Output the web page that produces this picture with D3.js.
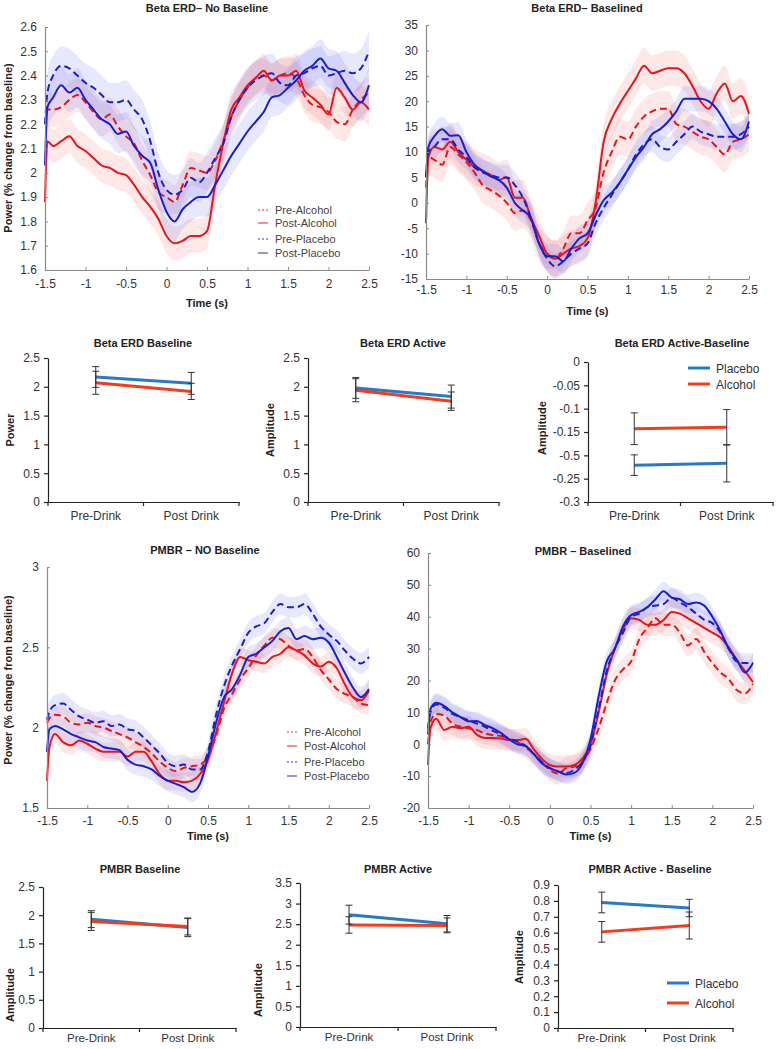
<!DOCTYPE html>
<html><head><meta charset="utf-8">
<script src="https://cdn.jsdelivr.net/npm/d3@7"></script>
<style>
body{margin:0;background:#fff}
svg{display:block;font-family:"Liberation Sans",Arial,Helvetica,sans-serif}
</style>
</head><body>
<svg id="c" width="777" height="1049"></svg>
<script>
// ---------- time-series data (time in s) ----------
const times = [-1.5,-1.47,-1.4,-1.3,-1.2,-1.1,-1,-0.9,-0.8,-0.7,-0.6,-0.5,-0.4,-0.3,-0.2,-0.1,0,0.1,0.2,0.3,0.4,0.5,0.6,0.7,0.8,0.9,1,1.1,1.2,1.3,1.4,1.5,1.6,1.7,1.8,1.9,2,2.1,2.2,2.3,2.4,2.5];
const timeTicks = [-1.5,-1,-0.5,0,0.5,1,1.5,2,2.5];
const timeTickLabels = ["-1.5","-1","-0.5","0","0.5","1","1.5","2","2.5"];

// Beta ERD - No Baseline
const erdNoBasePreAlc  = [2.20,2.26,2.26,2.27,2.30,2.32,2.29,2.25,2.22,2.24,2.19,2.15,2.12,2.05,1.99,1.92,1.90,1.88,1.95,2.02,2.01,2.00,2.05,2.13,2.23,2.30,2.35,2.39,2.40,2.38,2.40,2.41,2.39,2.32,2.28,2.27,2.25,2.21,2.20,2.26,2.30,2.33];
const erdNoBasePostAlc = [1.88,2.13,2.11,2.13,2.15,2.11,2.09,2.06,2.03,2.02,2.00,1.99,1.95,1.90,1.86,1.81,1.74,1.71,1.72,1.74,1.74,1.76,1.95,2.12,2.26,2.31,2.36,2.39,2.42,2.38,2.40,2.40,2.42,2.34,2.31,2.28,2.24,2.35,2.31,2.26,2.29,2.26];
const erdNoBasePrePla  = [2.20,2.33,2.40,2.44,2.43,2.40,2.37,2.35,2.32,2.29,2.29,2.30,2.26,2.22,2.13,2.00,1.93,1.91,1.93,1.98,1.96,2.00,2.06,2.12,2.23,2.30,2.35,2.38,2.40,2.41,2.37,2.36,2.40,2.41,2.43,2.44,2.40,2.41,2.42,2.41,2.43,2.50];
const erdNoBasePostPla = [2.03,2.27,2.31,2.36,2.33,2.35,2.30,2.26,2.22,2.20,2.16,2.17,2.11,2.07,2.04,1.93,1.84,1.80,1.85,1.88,1.90,1.90,1.95,2.01,2.07,2.12,2.17,2.21,2.25,2.31,2.32,2.35,2.38,2.42,2.44,2.47,2.43,2.42,2.37,2.32,2.29,2.36];
const erdNoBaseSeAlc = 0.07, erdNoBaseSePla = 0.08;
const erdNoBaseTicks = [1.6,1.7,1.8,1.9,2,2.1,2.2,2.3,2.4,2.5,2.6];
const erdNoBaseTickLabels = ["1.6","1.7","1.8","1.9","2","2.1","2.2","2.3","2.4","2.5","2.6"];

// Beta ERD - Baselined
const erdBasePreAlc  = [3,9,8.5,7.5,11,9.5,8,6,3.5,2.5,1.5,0,-2,-1.5,-3.5,-8,-10,-11,-9,-6,-6,-3.5,-1,6,10,13,12.5,15,17,18,18.5,18.5,15.5,15,14,13,12.5,11,9.5,12,12.5,13.5];
const erdBasePostAlc = [-4,9,11,10.5,12,10,8.5,7,6.3,5.5,4.5,5,1,1,-3,-6.5,-10,-11,-10,-9,-8.5,-7,0,12,16.5,19.5,22,24.5,27,25.5,26,26.5,26.5,25.5,23,20,18.5,21.5,23.5,20,21,17.5];
const erdBasePrePla  = [5,10,11,12.5,12.5,10.5,9,7,6,5.5,5,5,3.5,1,-3,-8,-11,-12.5,-11.5,-10,-9,-8,-4,-1,1.5,4,6.5,9.5,11.5,12.5,11,10.5,12,13.5,15,14,13.5,13,13,13,13.5,15];
const erdBasePostPla = [5,11,13,14.5,13.2,13.3,10,7.5,6.3,5.2,4.5,3,0,-1.5,-3,-8,-10.5,-10.5,-11.5,-9,-7,-6,-2.5,0.5,2,4,6.5,9,11,13.5,14.5,16,18,20.5,20.5,20.5,20,18.5,16,13.5,12.5,16];
const erdBaseSeAlc = 3.5, erdBaseSePla = 2.5;
const erdBaseTicks = [-15,-10,-5,0,5,10,15,20,25,30,35];
const erdBaseTickLabels = ["-15","-10","-5","0","5","10","15","20","25","30","35"];

// PMBR - NO Baseline
const pmbrNoBasePreAlc  = [2.03,2.06,2.08,2.07,2.03,2.02,2.03,2.01,2.00,1.98,1.96,1.94,1.91,1.88,1.84,1.79,1.75,1.73,1.75,1.76,1.77,1.82,1.95,2.12,2.21,2.30,2.37,2.45,2.51,2.56,2.55,2.51,2.48,2.49,2.44,2.36,2.30,2.24,2.21,2.19,2.15,2.14];
const pmbrNoBasePostAlc = [1.67,1.88,1.96,1.91,1.89,1.92,1.90,1.87,1.85,1.85,1.85,1.82,1.85,1.85,1.79,1.71,1.67,1.67,1.66,1.67,1.71,1.80,1.97,2.16,2.34,2.44,2.42,2.41,2.40,2.44,2.46,2.50,2.48,2.45,2.40,2.38,2.41,2.37,2.27,2.19,2.17,2.23];
const pmbrNoBasePrePla  = [2.05,2.10,2.14,2.15,2.11,2.07,2.05,2.03,2.04,2.01,2.02,1.99,1.98,1.94,1.89,1.84,1.78,1.76,1.77,1.74,1.74,1.85,2.08,2.26,2.39,2.49,2.59,2.63,2.65,2.72,2.77,2.75,2.75,2.77,2.71,2.63,2.58,2.54,2.48,2.43,2.40,2.44];
const pmbrNoBasePostPla = [1.85,1.99,2.01,1.99,1.96,1.94,1.92,1.91,1.88,1.87,1.86,1.80,1.77,1.76,1.74,1.70,1.67,1.65,1.63,1.60,1.65,1.82,2.03,2.19,2.24,2.33,2.44,2.46,2.50,2.54,2.60,2.62,2.55,2.57,2.55,2.56,2.53,2.44,2.34,2.25,2.19,2.24];
const pmbrNoBaseSeAlc = 0.06, pmbrNoBaseSePla = 0.065;
const pmbrNoBaseTicks = [1.5,2,2.5,3];
const pmbrNoBaseTickLabels = ["1.5","2","2.5","3"];

// PMBR - Baselined
const pmbrBasePreAlc  = [0,7,9.5,9,6.5,5.5,5,4.5,3.4,2.9,2.5,1.6,0.7,-1,-3,-5.6,-8,-9.2,-7.5,-7,-5.5,-1.5,5,13,20,23.5,26,33,36.5,39.5,37.5,37.5,35,31,33,29,25.5,22.5,20.5,17,16,19];
const pmbrBasePostAlc = [-6.5,5,8,4.5,5.5,5,5.5,3,2,2,1.8,1.3,1.3,1.7,-1.5,-4.5,-6.5,-7,-7,-6.5,-4.5,0,10,22,30,36,39.5,39,37.5,37.5,39,41.5,41,39.5,38,36.5,35,33.5,30.5,26.5,23,19.5];
const pmbrBasePrePla  = [5,10,12.5,11.5,9.5,8.5,7.5,6.5,5.5,4.2,3,1.8,0.8,-0.5,-3,-5.5,-7.5,-8.5,-9,-8,-5.5,-0.5,11,23,30,35,40,41,43,43.5,44,46,44.5,43,41,39,38,35,30,26,25.5,25.5];
const pmbrBasePostPla = [3,11,13,12,10,8.5,7.2,7.3,6,5,3.5,1.5,0,-0.5,-3,-6,-7.5,-8.5,-9.5,-9,-6,1.5,15,26,30,37,40.5,41.5,43,45.5,48,46,45.5,44,44.5,43.5,40,35.5,30,26.5,22.5,25.5];
const pmbrBaseSeAlc = 3.5, pmbrBaseSePla = 3;
const pmbrBaseTicks = [-20,-10,0,10,20,30,40,50,60];
const pmbrBaseTickLabels = ["-20","-10","0","10","20","30","40","50","60"];

const tsLegend = ["Pre-Alcohol","Post-Alcohol","Pre-Placebo","Post-Placebo"];

// ---------- summary (line) charts ----------
const drinkCats = ["Pre-Drink","Post Drink"];
const groupLegend = ["Placebo","Alcohol"];

const erdBaselinePlacebo = [2.17,2.06], erdBaselinePlaceboErr = [0.18,0.19];
const erdBaselineAlcohol = [2.07,1.92], erdBaselineAlcoholErr = [0.20,0.14];
const erdActivePlacebo = [1.98,1.83], erdActivePlaceboErr = [0.18,0.20];
const erdActiveAlcohol = [1.94,1.75], erdActiveAlcoholErr = [0.20,0.16];
const erdDiffPlacebo = [-0.221,-0.217], erdDiffPlaceboErr = [0.022,0.040];
const erdDiffAlcohol = [-0.143,-0.140], erdDiffAlcoholErr = [0.034,0.038];
const pmbrBaselinePlacebo = [1.93,1.78], pmbrBaselinePlaceboErr = [0.15,0.16];
const pmbrBaselineAlcohol = [1.89,1.80], pmbrBaselineAlcoholErr = [0.16,0.15];
const pmbrActivePlacebo = [2.73,2.51], pmbrActivePlaceboErr = [0.23,0.20];
const pmbrActiveAlcohol = [2.48,2.47], pmbrActiveAlcoholErr = [0.20,0.18];
const pmbrDiffPlacebo = [0.79,0.755], pmbrDiffPlaceboErr = [0.065,0.055];
const pmbrDiffAlcohol = [0.605,0.645], pmbrDiffAlcoholErr = [0.065,0.085];

const ticks0to25 = [0,0.5,1,1.5,2,2.5], labels0to25 = ["0","0.5","1","1.5","2","2.5"];
const erdDiffTicks = [-0.3,-0.25,-0.2,-0.15,-0.1,-0.05,0];
const erdDiffTickLabels = ["-0.3","-0.25","-0.5","-0.15","-0.1","-0.05","0"];
const pmbrActiveTicks = [0,0.5,1,1.5,2,2.5,3,3.5], pmbrActiveTickLabels = ["0","0.5","1","1.5","2","2.5","3","3.5"];
const pmbrDiffTicks = [0,0.1,0.2,0.3,0.4,0.5,0.6,0.7,0.8,0.9];
const pmbrDiffTickLabels = ["0","0.1","0.2","0.3","0.4","0.5","0.6","0.7","0.8","0.9"];

// ---------- drawing ----------
const svg = d3.select("#c");
const RED = "#e8141c", BLUE = "#1a1fcc";
const RED_BAND = "rgba(245,110,110,0.17)", BLUE_BAND = "rgba(110,110,245,0.17)";
const L_BLUE = "#2a78c6", L_RED = "#f23c1c";

function title(txt, x, y){
  svg.append("text").attr("x",x).attr("y",y).attr("text-anchor","middle")
    .attr("font-size",11).attr("font-weight","bold").attr("fill","#222").text(txt);
}
function ylab(txt, x, y){
  svg.append("text").attr("transform",`translate(${x},${y}) rotate(-90)`).attr("text-anchor","middle")
    .attr("font-size",11).attr("font-weight","bold").attr("fill","#222").text(txt);
}

function tsPanel(c){
  const x = d3.scaleLinear().domain([-1.5,2.5]).range([c.x0,c.x1]);
  const y = d3.scaleLinear().domain(c.yDomain).range([c.yBot,c.yTop]);
  const g = svg.append("g");
  const series = [
    {d:c.preAlc, col:RED, band:RED_BAND, se:c.seAlc, dash:true},
    {d:c.postAlc, col:RED, band:RED_BAND, se:c.seAlc, dash:false},
    {d:c.prePla, col:BLUE, band:BLUE_BAND, se:c.sePla, dash:true},
    {d:c.postPla, col:BLUE, band:BLUE_BAND, se:c.sePla, dash:false}
  ];
  series.forEach(s=>{
    const area = d3.area().x((d,i)=>x(times[i])).y0(d=>y(d-s.se)).y1(d=>y(d+s.se)).curve(d3.curveMonotoneX);
    g.append("path").datum(s.d).attr("d",area).attr("fill",s.band).attr("stroke","none");
  });
  series.forEach(s=>{
    const line = d3.line().x((d,i)=>x(times[i])).y(d=>y(d)).curve(d3.curveMonotoneX);
    g.append("path").datum(s.d).attr("d",line).attr("fill","none").attr("stroke",s.col)
      .attr("stroke-width",2).attr("stroke-dasharray",s.dash?"7,4":null).attr("stroke-linejoin","round");
  });
  const xa = g.append("g").attr("transform",`translate(0,${c.yBot})`)
    .call(d3.axisBottom(x).tickValues(timeTicks).tickFormat((d,i)=>timeTickLabels[i]).tickSize(-3).tickSizeOuter(0).tickPadding(c.xPad));
  const ya = g.append("g").attr("transform",`translate(${c.x0},0)`)
    .call(d3.axisLeft(y).tickValues(c.yTicks).tickFormat((d,i)=>c.yLabels[i]).tickSize(-3).tickSizeOuter(0).tickPadding(8));
  [xa,ya].forEach(a=>{
    a.select(".domain").attr("stroke","#8a8a8a").attr("stroke-width",1.2);
    a.selectAll(".tick line").attr("stroke","#8a8a8a");
    a.selectAll("text").attr("font-size",12).attr("fill","#333").attr("font-family","Liberation Sans, Arial, sans-serif");
  });
  if(c.legend){
    const cols = [RED,RED,BLUE,BLUE];
    c.legend.ys.forEach((ly,i)=>{
      g.append("line").attr("x1",c.legend.x).attr("x2",c.legend.x+10).attr("y1",ly).attr("y2",ly)
        .attr("stroke",cols[i]).attr("stroke-opacity",0.6).attr("stroke-width",1.6)
        .attr("stroke-dasharray", i%2===0 ? "2,2" : null);
      g.append("text").attr("x",c.legend.x+17).attr("y",ly+4).attr("font-size",11).attr("fill","#444").text(tsLegend[i]);
    });
  }
  title(c.title, c.tx, c.ty);
  if(c.ylabel) ylab(c.ylabel, c.ylx, c.yly);
  svg.append("text").attr("x",(c.x0+c.x1)/2).attr("y",c.timeY).attr("text-anchor","middle")
    .attr("font-size",11).attr("font-weight","bold").attr("fill","#222").text("Time (s)");
}

function sumPanel(c){
  const x = d3.scaleBand().domain(drinkCats).range([c.x0,c.x1]).padding(0);
  const y = d3.scaleLinear().domain(c.yDomain).range([c.yBot,c.yTop]);
  const g = svg.append("g");
  const cx = d => x(d)+x.bandwidth()/2;
  const xa = g.append("g").attr("transform",`translate(0,${c.yBot})`)
    .call(d3.axisBottom(x).tickSize(0).tickPadding(c.xPad));
  xa.select(".domain").attr("stroke","#222").attr("stroke-width",1.2);
  xa.selectAll("text").attr("font-size",c.catFont).attr("fill","#333").attr("font-family","Liberation Sans, Arial, sans-serif");
  const bounds = drinkCats.map(d=>x(d)).concat([x.range()[1]]);
  g.selectAll(".bt").data(bounds).enter().append("line")
    .attr("x1",d=>d).attr("x2",d=>d).attr("y1",c.yBot).attr("y2",c.yBot+4).attr("stroke","#222").attr("stroke-width",1.2);
  const ya = g.append("g").attr("transform",`translate(${c.x0},0)`)
    .call(d3.axisLeft(y).tickValues(c.yTicks).tickFormat((d,i)=>c.yLabels[i]).tickSize(4).tickSizeOuter(0).tickPadding(4));
  ya.select(".domain").attr("stroke","#222").attr("stroke-width",1.2);
  ya.selectAll(".tick line").attr("stroke","#222").attr("stroke-width",1.2);
  ya.selectAll("text").attr("font-size",12).attr("fill","#333").attr("font-family","Liberation Sans, Arial, sans-serif");
  const groups = [
    {v:c.pla, e:c.plaErr, col:L_BLUE},
    {v:c.alc, e:c.alcErr, col:L_RED}
  ];
  groups.forEach(gr=>{
    const line = d3.line().x((d,i)=>cx(drinkCats[i])).y(d=>y(d));
    g.append("path").datum(gr.v).attr("d",line).attr("fill","none").attr("stroke",gr.col).attr("stroke-width",3);
  });
  groups.forEach(gr=>{
    gr.v.forEach((v,i)=>{
      const px = cx(drinkCats[i]);
      g.append("line").attr("x1",px).attr("x2",px).attr("y1",y(v-gr.e[i])).attr("y2",y(v+gr.e[i])).attr("stroke","#333").attr("stroke-width",1);
      [v-gr.e[i], v+gr.e[i]].forEach(ev=>{
        g.append("line").attr("x1",px-3.5).attr("x2",px+3.5).attr("y1",y(ev)).attr("y2",y(ev)).attr("stroke","#333").attr("stroke-width",1);
      });
    });
  });
  if(c.legend){
    [L_BLUE,L_RED].forEach((col,i)=>{
      const ly = c.legend.ys[i];
      g.append("line").attr("x1",c.legend.x).attr("x2",c.legend.x+22).attr("y1",ly).attr("y2",ly).attr("stroke",col).attr("stroke-width",3);
      g.append("text").attr("x",c.legend.x+28).attr("y",ly+4.5).attr("font-size",12).attr("fill","#333").text(groupLegend[i]);
    });
  }
  title(c.title, c.tx, c.ty);
  ylab(c.ylabel, c.ylx, c.yly);
}

// Row 1
tsPanel({x0:45,x1:369,yTop:27,yBot:270,yDomain:[1.6,2.6],yTicks:erdNoBaseTicks,yLabels:erdNoBaseTickLabels,
  preAlc:erdNoBasePreAlc,postAlc:erdNoBasePostAlc,prePla:erdNoBasePrePla,postPla:erdNoBasePostPla,
  seAlc:erdNoBaseSeAlc,sePla:erdNoBaseSePla,xPad:9,
  title:"Beta ERD\u2013 No Baseline",tx:207,ty:12,ylabel:"Power (% change from baseline)",ylx:12,yly:148,timeY:307,
  legend:{x:258,ys:[210,223,239,253]}});
tsPanel({x0:426,x1:749,yTop:25,yBot:279,yDomain:[-15,35],yTicks:erdBaseTicks,yLabels:erdBaseTickLabels,
  preAlc:erdBasePreAlc,postAlc:erdBasePostAlc,prePla:erdBasePrePla,postPla:erdBasePostPla,
  seAlc:erdBaseSeAlc,sePla:erdBaseSePla,xPad:6,
  title:"Beta ERD\u2013 Baselined",tx:587,ty:12,timeY:315});

// Row 2
sumPanel({x0:48,x1:239,yTop:358,yBot:502,yDomain:[0,2.5],yTicks:ticks0to25,yLabels:labels0to25,xPad:9,catFont:12,
  pla:erdBaselinePlacebo,plaErr:erdBaselinePlaceboErr,alc:erdBaselineAlcohol,alcErr:erdBaselineAlcoholErr,
  title:"Beta ERD Baseline",tx:143,ty:347,ylabel:"Power",ylx:14,yly:430});
sumPanel({x0:308,x1:499,yTop:358,yBot:502,yDomain:[0,2.5],yTicks:ticks0to25,yLabels:labels0to25,xPad:9,catFont:12,
  pla:erdActivePlacebo,plaErr:erdActivePlaceboErr,alc:erdActiveAlcohol,alcErr:erdActiveAlcoholErr,
  title:"Beta ERD Active",tx:403,ty:347,ylabel:"Amplitude",ylx:274,yly:430});
sumPanel({x0:588,x1:773,yTop:362,yBot:502,yDomain:[-0.3,0],yTicks:erdDiffTicks,yLabels:erdDiffTickLabels,xPad:9,catFont:12,
  pla:erdDiffPlacebo,plaErr:erdDiffPlaceboErr,alc:erdDiffAlcohol,alcErr:erdDiffAlcoholErr,
  title:"Beta ERD Active-Baseline",tx:682,ty:347,ylabel:"Amplitude",ylx:546,yly:428,
  legend:{x:688,ys:[368,384]}});

// Row 3
tsPanel({x0:47,x1:369,yTop:567,yBot:808,yDomain:[1.5,3],yTicks:pmbrNoBaseTicks,yLabels:pmbrNoBaseTickLabels,
  preAlc:pmbrNoBasePreAlc,postAlc:pmbrNoBasePostAlc,prePla:pmbrNoBasePrePla,postPla:pmbrNoBasePostPla,
  seAlc:pmbrNoBaseSeAlc,sePla:pmbrNoBaseSePla,xPad:8,
  title:"PMBR \u2013 NO Baseline",tx:205,ty:554,ylabel:"Power (% change from baseline)",ylx:12,yly:680,timeY:840,
  legend:{x:287,ys:[732,746,762,776]}});
tsPanel({x0:428,x1:753,yTop:553,yBot:808,yDomain:[-20,60],yTicks:pmbrBaseTicks,yLabels:pmbrBaseTickLabels,
  preAlc:pmbrBasePreAlc,postAlc:pmbrBasePostAlc,prePla:pmbrBasePrePla,postPla:pmbrBasePostPla,
  seAlc:pmbrBaseSeAlc,sePla:pmbrBaseSePla,xPad:8,
  title:"PMBR \u2013 Baselined",tx:583,ty:555,timeY:840});

// Row 4
sumPanel({x0:43,x1:236,yTop:887,yBot:1028,yDomain:[0,2.5],yTicks:ticks0to25,yLabels:labels0to25,xPad:6,catFont:11.5,
  pla:pmbrBaselinePlacebo,plaErr:pmbrBaselinePlaceboErr,alc:pmbrBaselineAlcohol,alcErr:pmbrBaselineAlcoholErr,
  title:"PMBR Baseline",tx:140,ty:873,ylabel:"Amplitude",ylx:14,yly:995});
sumPanel({x0:300,x1:496,yTop:883,yBot:1027,yDomain:[0,3.5],yTicks:pmbrActiveTicks,yLabels:pmbrActiveTickLabels,xPad:6,catFont:11.5,
  pla:pmbrActivePlacebo,plaErr:pmbrActivePlaceboErr,alc:pmbrActiveAlcohol,alcErr:pmbrActiveAlcoholErr,
  title:"PMBR Active",tx:398,ty:873,ylabel:"Amplitude",ylx:262,yly:990});
sumPanel({x0:558,x1:733,yTop:885,yBot:1028,yDomain:[0,0.9],yTicks:pmbrDiffTicks,yLabels:pmbrDiffTickLabels,xPad:6,catFont:11.5,
  pla:pmbrDiffPlacebo,plaErr:pmbrDiffPlaceboErr,alc:pmbrDiffAlcohol,alcErr:pmbrDiffAlcoholErr,
  title:"PMBR Active - Baseline",tx:650,ty:873,ylabel:"Amplitude",ylx:523,yly:957,
  legend:{x:667,ys:[983,1003]}});
</script>
</body></html>
